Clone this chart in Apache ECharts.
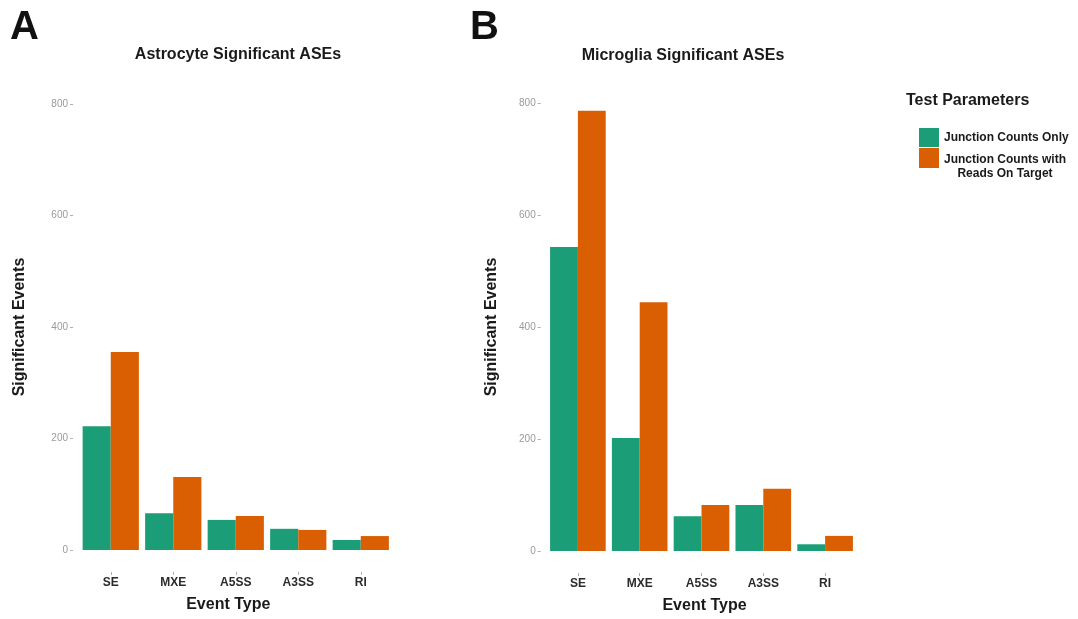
<!DOCTYPE html>
<html>
<head>
<meta charset="utf-8">
<script src="https://cdn.jsdelivr.net/npm/echarts@6/dist/echarts.min.js"></script>
<style>
  html, body { margin: 0; padding: 0; background: #ffffff; }
  #chart { width: 1078px; height: 619px; }
</style>
</head>
<body>
<div id="chart"></div>
<script>
// Event types shared by both panels
const categories = ['SE', 'MXE', 'A5SS', 'A3SS', 'RI'];
// Astrocyte significant alternative splicing events
const astroJunctionOnly = [222, 66, 54, 38, 18];
const astroJunctionReads = [355, 131, 61, 36, 25];
// Microglia significant alternative splicing events
const microJunctionOnly = [543, 202, 62, 82, 12];
const microJunctionReads = [786, 444, 82, 111, 27];
// Value axis ticks
const yTicks = [0, 200, 400, 600, 800];

const seriesNames = ['Junction Counts Only', 'Junction Counts with Reads On Target'];
const colors = ['#1b9e77', '#d95f02'];
const FONT = "'Liberation Sans', Arial, Helvetica, sans-serif";

const chart = echarts.init(document.getElementById('chart'), null, { renderer: 'canvas' });

function xAxisFor(gridIndex, namePad) {
  return {
    type: 'category',
    gridIndex: gridIndex,
    data: categories,
    offset: 22,
    axisLine: { show: false, onZero: false },
    axisTick: { show: true, length: 3, alignWithLabel: true, lineStyle: { color: '#b0b0b0' } },
    axisLabel: { margin: 5, fontFamily: FONT, fontSize: 12, fontWeight: 'bold', color: '#2b2b2b' },
    name: 'Event Type',
    nameLocation: 'middle',
    nameGap: 25,
    nameTextStyle: { fontFamily: FONT, fontSize: 16, fontWeight: 'bold', color: '#1a1a1a', padding: namePad }
  };
}

function yAxisFor(gridIndex, offset, nameGap) {
  return {
    type: 'value',
    gridIndex: gridIndex,
    min: yTicks[0],
    max: yTicks[yTicks.length - 1],
    interval: yTicks[1] - yTicks[0],
    offset: offset,
    splitLine: { show: false },
    axisLine: { show: false, onZero: false },
    axisTick: { show: true, length: 3, lineStyle: { color: '#b0b0b0' } },
    axisLabel: { margin: 5, fontFamily: FONT, fontSize: 10, color: '#9a9a9a' },
    name: 'Significant Events',
    nameLocation: 'middle',
    nameGap: nameGap,
    nameTextStyle: { fontFamily: FONT, fontSize: 16, fontWeight: 'bold', color: '#1a1a1a' }
  };
}

function barSeries(name, data, idx, color) {
  return {
    type: 'bar',
    name: name,
    xAxisIndex: idx,
    yAxisIndex: idx,
    data: data,
    barGap: '0%',
    barCategoryGap: '10%',
    itemStyle: { color: color },
    emphasis: { disabled: true }
  };
}

const legendText = { fontFamily: FONT, fontSize: 12, fontWeight: 'bold', color: '#1a1a1a' };

const option = {
  backgroundColor: '#ffffff',
  animation: false,
  title: [
    { text: 'A', left: 10, top: 8, padding: 0,
      textStyle: { fontFamily: FONT, fontSize: 40, fontWeight: 'bold', color: '#111' } },
    { text: 'B', left: 470, top: 8, padding: 0,
      textStyle: { fontFamily: FONT, fontSize: 40, fontWeight: 'bold', color: '#111' } },
    { text: 'Astrocyte Significant ASEs', left: 238, top: 47, padding: 0, textAlign: 'center',
      textStyle: { fontFamily: FONT, fontSize: 16, fontWeight: 'bold', color: '#1a1a1a' } },
    { text: 'Microglia Significant ASEs', left: 683, top: 48, padding: 0, textAlign: 'center',
      textStyle: { fontFamily: FONT, fontSize: 16, fontWeight: 'bold', color: '#1a1a1a' } },
    { text: 'Test Parameters', left: 906, top: 93, padding: 0,
      textStyle: { fontFamily: FONT, fontSize: 16, fontWeight: 'bold', color: '#1a1a1a' } }
  ],
  legend: [
    {
      data: [seriesNames[0]],
      orient: 'vertical', left: 919, top: 128, padding: 0,
      itemWidth: 20, itemHeight: 19, icon: 'rect', selectedMode: false,
      textStyle: legendText
    },
    {
      data: [seriesNames[1]],
      orient: 'vertical', left: 919, top: 138, padding: 0,
      itemWidth: 20, itemHeight: 20, icon: 'rect', selectedMode: false,
      // a spacer line pushes the two-line label below the key's centre
      formatter: function () { return '{s| }\n{a|Junction Counts with}\n{a|Reads On Target}'; },
      textStyle: Object.assign({}, legendText, {
        rich: {
          s: { fontSize: 12, lineHeight: 17 },
          a: Object.assign({ width: 122, align: 'center', lineHeight: 14 }, legendText)
        }
      })
    }
  ],
  grid: [
    { left: 79.5, width: 312.5, top: 104, bottom: 69, containLabel: false },
    { left: 547, width: 309, top: 103, bottom: 66, containLabel: false }
  ],
  xAxis: [xAxisFor(0, [0, 15, 0, 0]), xAxisFor(1, [0, 0, 0, 6])],
  yAxis: [yAxisFor(0, 6.5, 45), yAxisFor(1, 6.3, 41)],
  series: [
    barSeries(seriesNames[0], astroJunctionOnly, 0, colors[0]),
    barSeries(seriesNames[1], astroJunctionReads, 0, colors[1]),
    barSeries(seriesNames[0], microJunctionOnly, 1, colors[0]),
    barSeries(seriesNames[1], microJunctionReads, 1, colors[1])
  ]
};

chart.setOption(option);
</script>
</body>
</html>
